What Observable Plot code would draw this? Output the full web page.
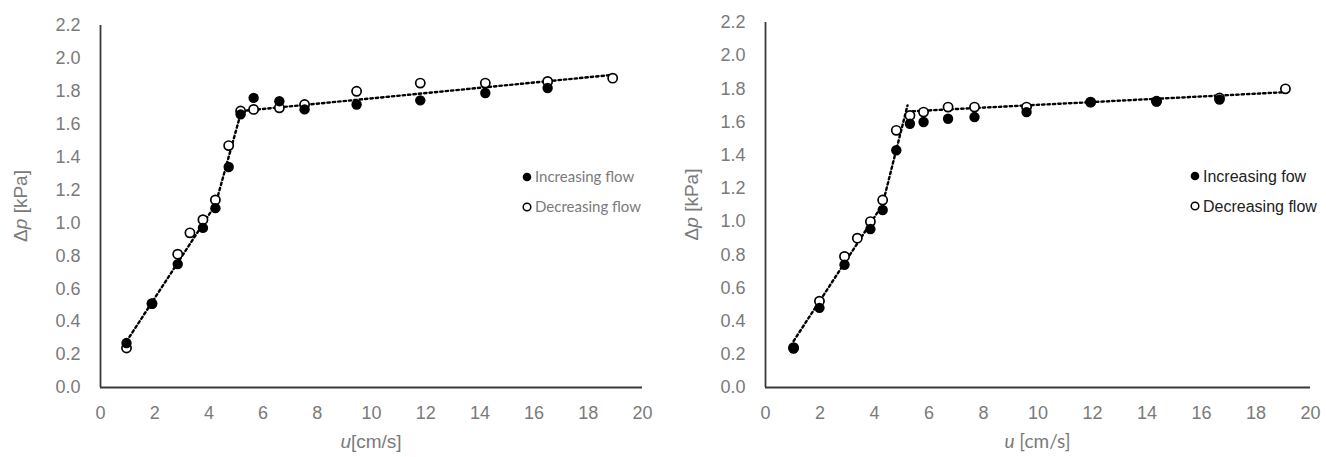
<!DOCTYPE html>
<html><head><meta charset="utf-8">
<script src="https://cdn.jsdelivr.net/npm/d3@7"></script>
<script src="https://cdn.jsdelivr.net/npm/@observablehq/plot@0.6"></script>
<style>
body{margin:0;background:#fff;}
#wrap{display:flex;width:1326px;height:457px;}
</style></head><body><div id="wrap"></div>
<script>
// ---- data ----
const xTicks = [0, 2, 4, 6, 8, 10, 12, 14, 16, 18, 20];
const yTicks = [0, 0.2, 0.4, 0.6, 0.8, 1.0, 1.2, 1.4, 1.6, 1.8, 2.0, 2.2];

// Left panel
const leftIncU  = [0.96, 1.9, 2.85, 3.78, 4.24, 4.73, 5.17, 5.65, 6.6, 7.53, 9.45, 11.8, 14.2, 16.5];
const leftIncDp = [0.27, 0.51, 0.75, 0.97, 1.09, 1.34, 1.66, 1.76, 1.74, 1.69, 1.72, 1.745, 1.79, 1.82];
const leftDecU  = [0.96, 1.9, 2.85, 3.3, 3.78, 4.24, 4.73, 5.17, 5.65, 6.6, 7.53, 9.45, 11.8, 14.2, 16.5, 18.9];
const leftDecDp = [0.24, 0.51, 0.81, 0.94, 1.02, 1.14, 1.47, 1.68, 1.69, 1.70, 1.72, 1.80, 1.85, 1.85, 1.86, 1.88];
const leftSteepU = [0.96, 4.24, 5.2], leftSteepDp = [0.28, 1.11, 1.68];
const leftFlatU  = [5.2, 18.9], leftFlatDp  = [1.68, 1.90];

// Right panel
const rightIncU  = [1.03, 1.98, 2.9, 3.85, 4.3, 4.8, 5.3, 5.8, 6.7, 7.67, 9.58, 11.93, 14.35, 16.66];
const rightIncDp = [0.235, 0.48, 0.74, 0.955, 1.07, 1.43, 1.59, 1.60, 1.62, 1.63, 1.66, 1.72, 1.725, 1.735];
const rightDecU  = [1.03, 1.98, 2.9, 3.37, 3.85, 4.3, 4.8, 5.3, 5.8, 6.7, 7.67, 9.58, 11.93, 14.35, 16.66, 19.08];
const rightDecDp = [0.24, 0.52, 0.79, 0.90, 1.0, 1.13, 1.55, 1.64, 1.66, 1.69, 1.69, 1.69, 1.72, 1.725, 1.745, 1.80];
const rightSteepU = [1.03, 4.29, 5.21], rightSteepDp = [0.28, 1.10, 1.70];
const rightFlatU  = [5.4, 19.08], rightFlatDp  = [1.665, 1.78];

const legendLeft  = ["Increasing flow", "Decreasing flow"];
const legendRight = ["Increasing fow", "Decreasing flow"];

const zip = (us, ds) => us.map((u, i) => ({u, dp: ds[i]}));

function panel(o) {
  const W = 663, H = 457;
  const dotted = {x: "u", y: "dp", stroke: "#000", strokeWidth: 2.4, strokeDasharray: "2.4,3"};
  const svg = Plot.plot({
    width: W, height: H,
    marginLeft: o.ml, marginRight: o.mr, marginTop: o.mt, marginBottom: 70,
    x: {domain: [0, 20]}, y: {domain: [0, 2.2]},
    style: {background: "#fff", fontFamily: "'Liberation Sans', Arial, sans-serif", overflow: "visible"},
    marks: [
      Plot.axisY(yTicks, {tickSize: 0, tickPadding: 20, tickFormat: d => d.toFixed(1), fontSize: 18, fill: "#7a7a7a", label: null}),
      Plot.axisX(xTicks, {tickSize: 0, tickPadding: 19, fontSize: 18, fill: "#7a7a7a", label: null}),
      Plot.ruleX([0], {y1: 0, y2: 2.2, stroke: "#3a3a3a", strokeWidth: 1.8}),
      Plot.ruleY([0], {x1: 0, x2: 20, stroke: "#3a3a3a", strokeWidth: 1.8}),
      Plot.line(zip(o.steepU, o.steepDp), dotted),
      Plot.line(zip(o.flatU, o.flatDp), dotted),
      Plot.dot(zip(o.decU, o.decDp), {x: "u", y: "dp", r: 4.6, fill: "#fff", stroke: "#000", strokeWidth: 1.7}),
      Plot.dot(zip(o.incU, o.incDp), {x: "u", y: "dp", r: 5.2, fill: "#000"})
    ]
  });
  const s = d3.select(svg);
  const cx = (o.ml + (W - o.mr)) / 2;
  const cy = (o.mt + (H - 70)) / 2;
  // x label
  const xl = s.append("text").attr("x", cx).attr("y", 448).attr("text-anchor", "middle")
    .attr("font-size", 19).attr("fill", "#7a7a7a").attr("font-family", o.xFont);
  xl.append("tspan").attr("font-style", "italic").text("u");
  xl.append("tspan").text(o.xSep + "[cm/s]");
  // y label
  const yl = s.append("text").attr("transform", `translate(${o.yLabX},${cy}) rotate(-90)`)
    .attr("text-anchor", "middle").attr("font-size", 19).attr("fill", "#7a7a7a")
    .attr("font-family", "'Liberation Sans', Arial, sans-serif");
  yl.append("tspan").text("Δ");
  yl.append("tspan").attr("font-style", "italic").text("p");
  yl.append("tspan").text(" [kPa]");
  // legend
  const lg = s.append("g").attr("text-anchor", "start");
  o.legend.forEach((t, i) => {
    const y = o.legY + i * 30;
    lg.append("circle").attr("cx", o.legX).attr("cy", y).attr("r", i ? 3.8 : 4.3)
      .attr("fill", i ? "#fff" : "#000").attr("stroke", "#000").attr("stroke-width", i ? 1.5 : 0);
    lg.append("text").attr("x", o.legX + 8).attr("y", y).attr("dy", "0.35em").attr("text-anchor", "start")
      .attr("font-size", o.legSize).attr("fill", o.legColor).attr("font-family", o.legFont).text(t);
  });
  return svg;
}

const wrap = document.getElementById("wrap");
wrap.appendChild(panel({
  ml: 100, mr: 21, mt: 25,
  incU: leftIncU, incDp: leftIncDp, decU: leftDecU, decDp: leftDecDp,
  steepU: leftSteepU, steepDp: leftSteepDp, flatU: leftFlatU, flatDp: leftFlatDp,
  xFont: "'Liberation Sans', Arial, sans-serif", xSep: "",
  yLabX: 27,
  legend: legendLeft, legX: 527, legY: 177, legSize: 15, legColor: "#7a7a7a", legFont: "Lato, sans-serif"
}));
wrap.appendChild(panel({
  ml: 102, mr: 16, mt: 22,
  incU: rightIncU, incDp: rightIncDp, decU: rightDecU, decDp: rightDecDp,
  steepU: rightSteepU, steepDp: rightSteepDp, flatU: rightFlatU, flatDp: rightFlatDp,
  xFont: "Lato, sans-serif", xSep: " ",
  yLabX: 35,
  legend: legendRight, legX: 532, legY: 176, legSize: 16, legColor: "#222", legFont: "'Liberation Sans', Arial, sans-serif"
}));
</script></body></html>
